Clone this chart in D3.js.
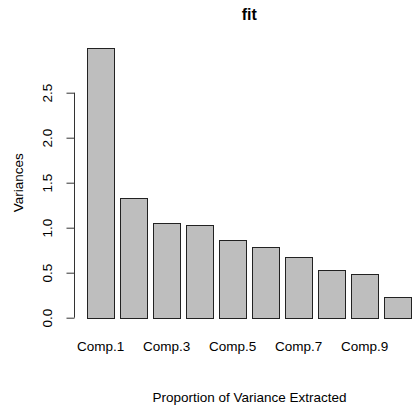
<!DOCTYPE html>
<html>
<head>
<meta charset="utf-8">
<script src="https://cdn.jsdelivr.net/npm/d3@7"></script>
<style>
  html, body { margin: 0; padding: 0; background: #fff; }
  svg { display: block; }
  text { font-family: "Liberation Sans", Arial, sans-serif; fill: #000; }
</style>
</head>
<body>
<svg id="chart" width="413" height="410"></svg>
<script>
const categories = ["Comp.1","Comp.2","Comp.3","Comp.4","Comp.5","Comp.6","Comp.7","Comp.8","Comp.9","Comp.10"];
const variances = [3.00, 1.327, 1.049, 1.03, 0.867, 0.789, 0.674, 0.53, 0.489, 0.23];
const shownTickLabels = ["Comp.1","Comp.3","Comp.5","Comp.7","Comp.9"];
const yTicks = [0, 0.5, 1.0, 1.5, 2.0, 2.5];
const title = "fit";
const yTitle = "Variances";
const xTitle = "Proportion of Variance Extracted";

const svg = d3.select("#chart");
const fs = "13.5px";

const x = d3.scaleBand()
  .domain(categories)
  .range([87, 411.5])
  .paddingInner(0.2 / 1.2)
  .paddingOuter(0);

const y = d3.scaleLinear().domain([0, 3]).range([317.7, 47.7]);

// bars
svg.append("g").selectAll("rect")
  .data(categories)
  .join("rect")
  .attr("x", (d) => Math.round(x(d)) + 0.5)
  .attr("y", (d, i) => Math.round(y(variances[i])) + 0.5)
  .attr("width", Math.round(x.bandwidth()))
  .attr("height", (d, i) => Math.round(y(0)) - Math.round(y(variances[i])))
  .attr("fill", "#bebebe")
  .attr("stroke", "#222")
  .attr("stroke-width", 1);

// y axis
const yAxis = svg.append("g")
  .attr("transform", "translate(74.5,0)")
  .call(d3.axisLeft(y).tickValues(yTicks).tickSize(8).tickFormat(d3.format(".1f")));
yAxis.select(".domain").remove();
yAxis.append("line")
  .attr("x1", 0).attr("x2", 0)
  .attr("y1", y(0)).attr("y2", y(2.5))
  .attr("stroke", "#333");
yAxis.selectAll(".tick line").attr("stroke", "#333");
yAxis.selectAll(".tick text")
  .attr("x", null).attr("dy", null)
  .attr("text-anchor", "middle")
  .attr("transform", "translate(-22.5,0) rotate(-90)")
  .style("font-size", fs)
  .style("font-family", '"Liberation Sans", Arial, sans-serif')
  .attr("fill", "#000");

// x tick labels (only the ones R kept)
svg.append("g").selectAll("text")
  .data(shownTickLabels)
  .join("text")
  .attr("x", (d) => x(d) + x.bandwidth() / 2)
  .attr("y", 350.7)
  .attr("text-anchor", "middle")
  .style("font-size", fs)
  .text((d) => d);

// title
svg.append("text")
  .attr("x", 249.25).attr("y", 19.5)
  .attr("text-anchor", "middle")
  .style("font-size", "16px")
  .style("font-weight", "bold")
  .text(title);

// axis titles
svg.append("text")
  .attr("x", 249.5).attr("y", 401.5)
  .attr("text-anchor", "middle")
  .style("font-size", fs)
  .text(xTitle);

svg.append("text")
  .attr("transform", "translate(23,182.7) rotate(-90)")
  .attr("text-anchor", "middle")
  .style("font-size", fs)
  .text(yTitle);
</script>
</body>
</html>
